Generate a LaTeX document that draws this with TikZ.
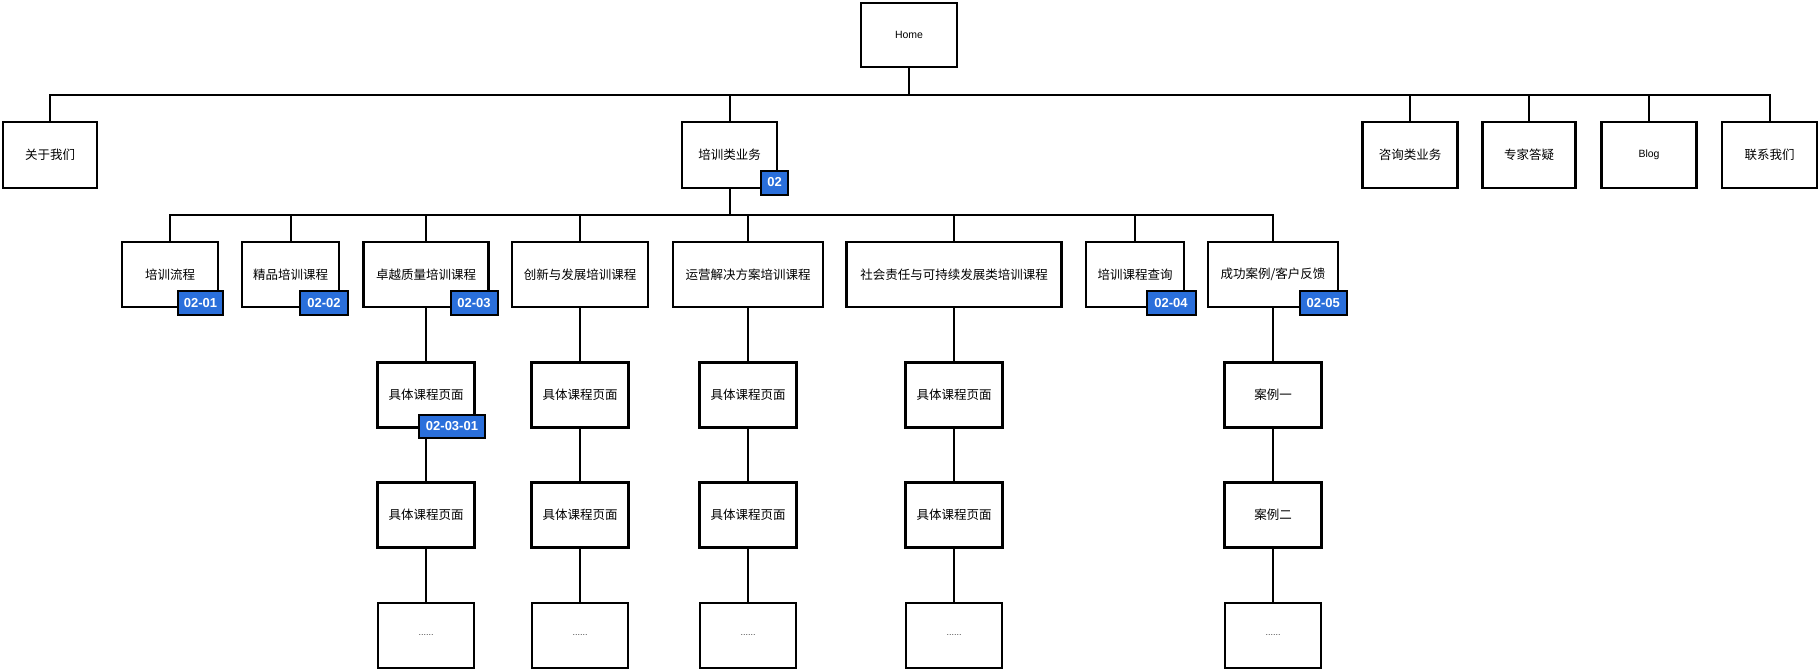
\documentclass[tikz,border=0pt]{standalone}
\usepackage{fontspec}
\setmainfont{Liberation Sans}
\newfontfamily\cjk{Noto Sans CJK SC}
\definecolor{badgeblue}{HTML}{2A6FDB}
\begin{document}
\begin{tikzpicture}[x=1pt,y=-1pt,
  box/.style={draw=black, line width=2.6pt, fill=white, minimum height=65pt, inner sep=0pt,
              font=\cjk\fontsize{12.5}{14}\selectfont},
  lat/.style={font=\fontsize{10.5}{12}\selectfont},
  link/.style={draw=black, line width=2pt},
  badge/.style={draw=black, fill=badgeblue, line width=2pt, text=white, inner sep=0pt,
                minimum height=24pt, font=\bfseries\fontsize{13}{13}\selectfont},
  dotstext/.style={font=\fontsize{9}{9}\selectfont, text=black!75}]
\useasboundingbox (0,0) rectangle (1820,670);

% level 0
\node[box, lat, minimum width=96pt, minimum height=64pt] (home) at (909,35) {Home};

% level 1
\node[box, minimum width=94pt, minimum height=66pt] (about) at (50,155) {关于我们};
\node[box, minimum width=95pt, minimum height=66pt] (train) at (729.5,155) {培训类业务};
\node[box, minimum width=95pt, minimum height=66pt] (consult) at (1410,155) {咨询类业务};
\node[box, minimum width=93pt, minimum height=66pt] (expert) at (1529,155) {专家答疑};
\node[box, lat, minimum width=95pt, minimum height=66pt] (blog) at (1649,155) {Blog};
\node[box, minimum width=95pt, minimum height=66pt] (contact) at (1769.5,155) {联系我们};

% level 2
\node[box, minimum width=96pt] (flow) at (170,274.5) {培训流程};
\node[box, minimum width=97pt] (fine) at (290.5,274.5) {精品培训课程};
\node[box, minimum width=125pt] (excel) at (426,274.5) {卓越质量培训课程};
\node[box, minimum width=136pt] (innov) at (580,274.5) {创新与发展培训课程};
\node[box, minimum width=150pt] (oper) at (748,274.5) {运营解决方案培训课程};
\node[box, minimum width=215pt] (social) at (954,274.5) {社会责任与可持续发展类培训课程};
\node[box, minimum width=98pt] (query) at (1135,274.5) {培训课程查询};
\node[box, minimum width=130pt] (cases) at (1273,274.5) {成功案例/客户反馈};

% level 3
\node[box, minimum width=97pt] (exA) at (426,395) {具体课程页面};
\node[box, minimum width=97pt] (inA) at (580,395) {具体课程页面};
\node[box, minimum width=97pt] (opA) at (748,395) {具体课程页面};
\node[box, minimum width=97pt] (soA) at (954,395) {具体课程页面};
\node[box, minimum width=97pt] (caA) at (1273,395) {案例一};

% level 4
\node[box, minimum width=97pt] (exB) at (426,515) {具体课程页面};
\node[box, minimum width=97pt] (inB) at (580,515) {具体课程页面};
\node[box, minimum width=97pt] (opB) at (748,515) {具体课程页面};
\node[box, minimum width=97pt] (soB) at (954,515) {具体课程页面};
\node[box, minimum width=97pt] (caB) at (1273,515) {案例二};

% level 5
\node[box, dotstext, minimum width=96pt] (exC) at (426,635.5) {......};
\node[box, dotstext, minimum width=96pt] (inC) at (580,635.5) {......};
\node[box, dotstext, minimum width=96pt] (opC) at (748,635.5) {......};
\node[box, dotstext, minimum width=96pt] (soC) at (954,635.5) {......};
\node[box, dotstext, minimum width=96pt] (caC) at (1273,635.5) {......};

% buses
\coordinate (busA) at (909,95);
\coordinate (busB) at (729.5,215);

\begin{scope}[on background layer/.style={}]
\draw[link] (home.south) -- (busA);
\foreach \n in {about,train,consult,expert,blog,contact}
  \draw[link] (busA) -| (\n.north);
\draw[link] (train.south) -- (busB);
\foreach \n in {flow,fine,excel,innov,oper,social,query,cases}
  \draw[link] (busB) -| (\n.north);
\draw[link] (excel.south) -- (exA.north);
\draw[link] (exA.south) -- (exB.north);
\draw[link] (exB.south) -- (exC.north);
\draw[link] (innov.south) -- (inA.north);
\draw[link] (inA.south) -- (inB.north);
\draw[link] (inB.south) -- (inC.north);
\draw[link] (oper.south) -- (opA.north);
\draw[link] (opA.south) -- (opB.north);
\draw[link] (opB.south) -- (opC.north);
\draw[link] (social.south) -- (soA.north);
\draw[link] (soA.south) -- (soB.north);
\draw[link] (soB.south) -- (soC.north);
\draw[link] (cases.south) -- (caA.north);
\draw[link] (caA.south) -- (caB.north);
\draw[link] (caB.south) -- (caC.north);
\end{scope}

% badges
\node[badge, minimum width=27pt] (bd02) at (774.5,182.5) {02};
\node[badge, minimum width=45pt] (bd0201) at (200.5,303.3) {02-01};
\node[badge, minimum width=48pt] (bd0202) at (324,303.3) {02-02};
\node[badge, minimum width=47pt] (bd0203) at (474,303.3) {02-03};
\node[badge, minimum width=49pt] (bd0204) at (1171,303.3) {02-04};
\node[badge, minimum width=47pt] (bd0205) at (1323.3,303.3) {02-05};
\node[badge, minimum width=66pt, minimum height=23pt] (bd020301) at (452,426.5) {02-03-01};
\end{tikzpicture}
\end{document}
